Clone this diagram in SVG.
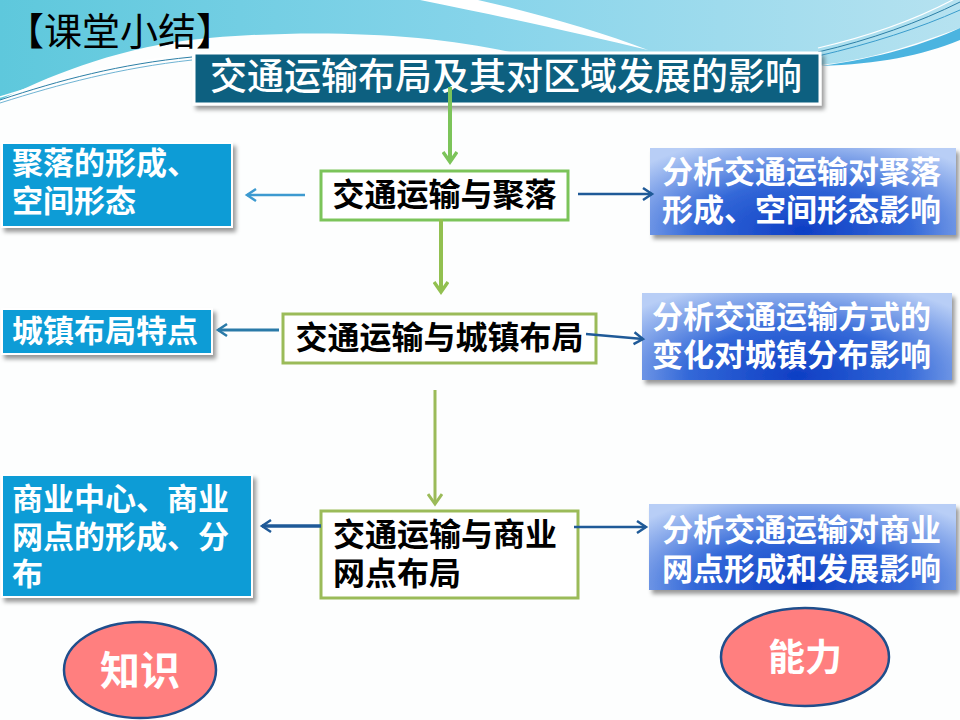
<svg xmlns="http://www.w3.org/2000/svg" width="960" height="720" viewBox="0 0 960 720">
<defs>
<style>
.cjk{font-family:"Noto Sans CJK SC","Noto Sans CJK TC",sans-serif}
.wt{fill:#ffffff;font-weight:bold;font-size:31px}
.bk{fill:#000000;font-weight:bold;font-size:32px}
.lbox{fill:#0f9cd6;stroke:#ffffff;stroke-width:2}
.rbox{fill:url(#rg);stroke:none}
.cbox{fill:#ffffff;stroke-width:3}
.ell{fill:#ff7f7f;stroke:#1f4e8c;stroke-width:2.5}
.ln{fill:none;stroke-linecap:butt}
</style>
<linearGradient id="sky" x1="0" y1="0" x2="1" y2="0">
<stop offset="0" stop-color="#5ec8dc"/>
<stop offset="0.5" stop-color="#86d4ea"/>
<stop offset="1" stop-color="#b6e2f0"/>
</linearGradient>
<radialGradient id="rg" cx="0.5" cy="0.95" r="0.7" gradientTransform="translate(0.5,0.95) scale(1,1.6) translate(-0.5,-0.95)">
<stop offset="0" stop-color="#0e3ec4"/>
<stop offset="0.5" stop-color="#3368d8"/>
<stop offset="1" stop-color="#b8cef6"/>
</radialGradient>
<filter id="sh" x="-10%" y="-10%" width="125%" height="140%">
<feDropShadow dx="3" dy="4" stdDeviation="2" flood-color="#000000" flood-opacity="0.4"/>
</filter>
<marker id="mg1" viewBox="0 0 16 16" refX="12" refY="8" markerWidth="16" markerHeight="16" markerUnits="userSpaceOnUse" orient="auto">
<path d="M2,1 L12,8 L2,15" fill="none" stroke="#7cc45a" stroke-width="3.5"/>
</marker>
<marker id="mg2" viewBox="0 0 16 16" refX="12" refY="8" markerWidth="16" markerHeight="16" markerUnits="userSpaceOnUse" orient="auto">
<path d="M2,1 L12,8 L2,15" fill="none" stroke="#92c050" stroke-width="3.5"/>
</marker>
<marker id="mg3" viewBox="0 0 16 16" refX="12" refY="8" markerWidth="16" markerHeight="16" markerUnits="userSpaceOnUse" orient="auto">
<path d="M2,1 L12,8 L2,15" fill="none" stroke="#9bbb59" stroke-width="3"/>
</marker>
<marker id="mb1" viewBox="0 0 16 16" refX="12" refY="8" markerWidth="16" markerHeight="16" markerUnits="userSpaceOnUse" orient="auto">
<path d="M3,2 L12,8 L3,14" fill="none" stroke="#3d9ad0" stroke-width="2.5"/>
</marker>
<marker id="mb2" viewBox="0 0 16 16" refX="12" refY="8" markerWidth="16" markerHeight="16" markerUnits="userSpaceOnUse" orient="auto">
<path d="M3,2 L12,8 L3,14" fill="none" stroke="#2a7aa8" stroke-width="2.5"/>
</marker>
<marker id="mb3" viewBox="0 0 16 16" refX="12" refY="8" markerWidth="16" markerHeight="16" markerUnits="userSpaceOnUse" orient="auto">
<path d="M3,2 L12,8 L3,14" fill="none" stroke="#1f5a98" stroke-width="2.5"/>
</marker>
</defs>

<g id="background">
<rect x="0" y="0" width="960" height="720" fill="#fdfefe"/>
<path d="M0,0 H960 V28 C900,50 860,62 810,66 L560,66 C470,34 320,26 190,40 C110,50 45,78 0,100 Z" fill="url(#sky)"/>
<path d="M820,66 C880,58 925,44 960,28 V40 C920,56 880,64 820,66 Z" fill="#4bb4e0"/>
<path d="M420,0 L478,0 C540,14 600,32 648,50 C590,36 510,18 420,0 Z" fill="#ffffff"/>
<path d="M0,100 C60,80 120,64 192,57" fill="none" stroke="#2c7fa6" stroke-width="1"/>
<path d="M0,97 C60,78 120,62 192,54" fill="none" stroke="#ffffff" stroke-width="1.5"/>
<path d="M0,103 C60,84 120,68 192,60" fill="none" stroke="#4aa0c8" stroke-width="0.8"/>
<path d="M818,52 C870,40 920,22 960,2" fill="none" stroke="#2c7fa6" stroke-width="1"/>
<path d="M818,56 C870,44 920,28 960,10" fill="none" stroke="#3a9ccc" stroke-width="1"/>
<path d="M818,48 C870,36 920,18 960,-4" fill="none" stroke="#ffffff" stroke-width="1.2"/>
</g>

<text class="cjk" x="6" y="45" font-size="38" fill="#000000">【课堂小结】</text>

<g id="title">
<rect x="194" y="53" width="626" height="51" fill="#0f6080" stroke="#ffffff" stroke-width="3" filter="url(#sh)"/>
<text class="cjk" x="506" y="90" font-size="37" fill="#ffffff" font-weight="500" text-anchor="middle">交通运输布局及其对区域发展的影响</text>
</g>

<g id="center1">
<rect class="cbox" x="321" y="171" width="247" height="49" stroke="#7cc45a"/>
<text class="cjk bk" x="444.5" y="206" text-anchor="middle">交通运输与聚落</text>
</g>
<g id="center2">
<rect class="cbox" x="283" y="314" width="313" height="49" stroke="#9bbb59"/>
<text class="cjk bk" x="439.5" y="349" text-anchor="middle">交通运输与城镇布局</text>
</g>
<g id="center3">
<rect class="cbox" x="321" y="511" width="257" height="87" stroke="#9bbb59"/>
<text class="cjk bk" x="333" y="546">交通运输与商业</text>
<text class="cjk bk" x="333" y="585">网点布局</text>
</g>

<g id="left1">
<rect class="lbox" x="2" y="143" width="230" height="84" filter="url(#sh)"/>
<text class="cjk wt" x="12" y="174">聚落的形成、</text>
<text class="cjk wt" x="12" y="212">空间形态</text>
</g>
<g id="left2">
<rect class="lbox" x="2" y="309" width="210" height="45" filter="url(#sh)"/>
<text class="cjk wt" x="12" y="342">城镇布局特点</text>
</g>
<g id="left3">
<rect class="lbox" x="2" y="475" width="250" height="122" filter="url(#sh)"/>
<text class="cjk wt" x="12" y="510">商业中心、商业</text>
<text class="cjk wt" x="12" y="548">网点的形成、分</text>
<text class="cjk wt" x="12" y="585">布</text>
</g>

<g id="right1">
<rect class="rbox" x="650" y="148" width="306" height="87" filter="url(#sh)"/>
<text class="cjk wt" x="662" y="183">分析交通运输对聚落</text>
<text class="cjk wt" x="662" y="221">形成、空间形态影响</text>
</g>
<g id="right2">
<rect class="rbox" x="642" y="293" width="310" height="87" filter="url(#sh)"/>
<text class="cjk wt" x="652" y="328">分析交通运输方式的</text>
<text class="cjk wt" x="652" y="366">变化对城镇分布影响</text>
</g>
<g id="right3">
<rect class="rbox" x="649" y="504" width="307" height="86" filter="url(#sh)"/>
<text class="cjk wt" x="662" y="541">分析交通运输对商业</text>
<text class="cjk wt" x="662" y="580">网点形成和发展影响</text>
</g>

<g id="knowledge">
<ellipse class="ell" cx="140" cy="670" rx="76" ry="48"/>
<text class="cjk" x="140" y="685" font-size="40" font-weight="bold" fill="#ffffff" text-anchor="middle">知识</text>
</g>
<g id="ability">
<ellipse class="ell" cx="805" cy="657" rx="84" ry="49"/>
<text class="cjk" x="805" y="671" font-size="37" font-weight="bold" fill="#ffffff" text-anchor="middle">能力</text>
</g>

<g id="connectors">
<path class="ln" d="M450,87 V162" stroke="#7cc45a" stroke-width="4" marker-end="url(#mg1)"/>
<path class="ln" d="M441,219 V292" stroke="#92c050" stroke-width="4" marker-end="url(#mg2)"/>
<path class="ln" d="M435,390 V504" stroke="#9bbb59" stroke-width="3" marker-end="url(#mg3)"/>
<path class="ln" d="M305,195 H247" stroke="#3d9ad0" stroke-width="2.5" marker-end="url(#mb1)"/>
<path class="ln" d="M279,330 H218" stroke="#2a7aa8" stroke-width="3" marker-end="url(#mb2)"/>
<path class="ln" d="M321,526 H262" stroke="#1f5a98" stroke-width="3.5" marker-end="url(#mb3)"/>
<path class="ln" d="M578,194 H652" stroke="#1f5a98" stroke-width="2.5" marker-end="url(#mb3)"/>
<path class="ln" d="M586,334 L643,339" stroke="#1f5a98" stroke-width="2.5" marker-end="url(#mb3)"/>
<path class="ln" d="M574,527 H646" stroke="#1f5a98" stroke-width="2.5" marker-end="url(#mb3)"/>
</g>
</svg>
